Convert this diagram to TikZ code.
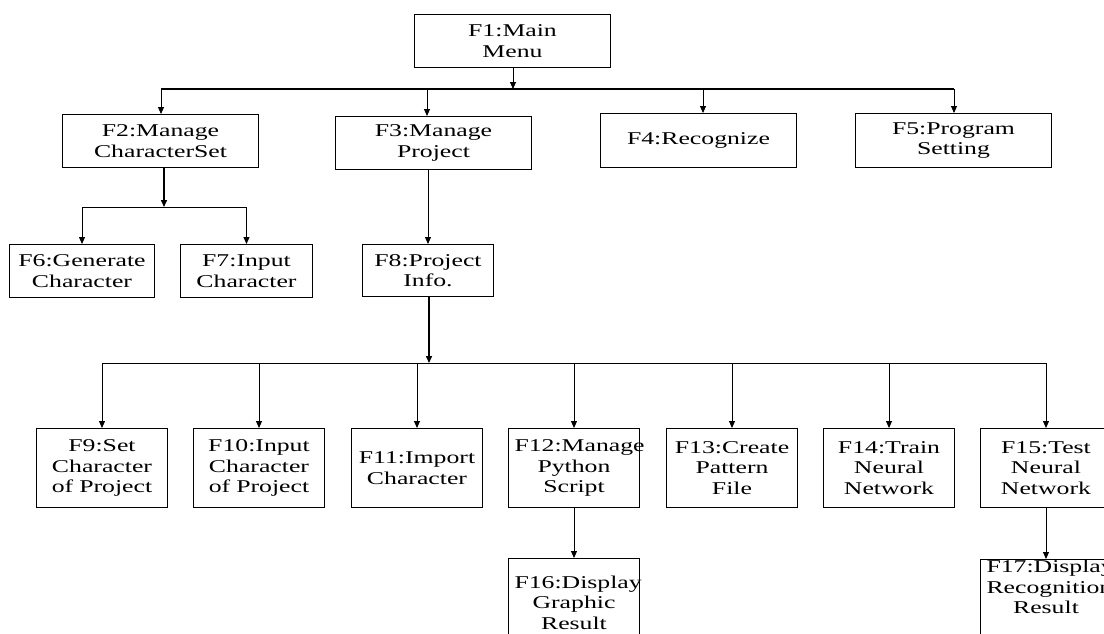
\documentclass[tikz,border=0pt]{standalone}
\usepackage{fontspec}
\setmainfont{Liberation Serif}[FakeStretch=1.43]
\usetikzlibrary{arrows.meta}
\hyphenpenalty=10000
\exhyphenpenalty=10000
\begin{document}
\begin{tikzpicture}[x=1pt,y=-1pt,
  fbox/.style={draw, line width=1pt, anchor=north west, inner xsep=6pt, inner ysep=0pt, align=center, font=\fontsize{18}{20.5}\selectfont},
  wide/.style={fbox, minimum width=196pt, text width=184pt, minimum height=53pt},
  mid/.style={fbox, minimum width=131pt, text width=119pt, minimum height=53pt},
  tall/.style={fbox, minimum width=131pt, text width=119pt, minimum height=79pt},
  ln/.style={line width=0.9pt},
  arr/.style={ln, -{Triangle[length=7pt,width=6pt]}},
  heavy/.style={line width=1.5pt},
]
\fill[white] (0,0) rectangle (1104,633);
\clip (0,0) rectangle (1104,633);

% level 0 and 1
\node[wide] (f1) at (414,14) {F1:Main\\Menu};
\node[wide] (f2) at (62,114) {F2:Manage\\CharacterSet};
\node[wide, minimum width=195pt] (f3) at (335,116) {F3:Manage\\Project};
\node[wide, minimum height=54pt] (f4) at (600,113) {F4:Recognize};
\node[wide, minimum height=54pt] (f5) at (855,113) {F5:Program\\Setting};

% level 2
\node[mid, minimum width=145pt, text width=133pt] (f6) at (9,244) {F6:Generate\\Character};
\node[mid, minimum width=132pt] (f7) at (180,244) {F7:Input\\Character};
\node[mid, minimum height=52pt] (f8) at (362,244) {F8:Project\\Info.};

% level 3
\node[tall] (f9)  at (36,428)  {F9:Set\\Character\\of Project};
\node[tall] (f10) at (193,428) {F10:Input\\Character\\of Project};
\node[tall] (f11) at (351,428) {F11:Import\\Character};
\node[tall] (f12) at (508,428) {F12:Manage\\Python\\Script};
\node[tall] (f13) at (666,428) {F13:Create\\Pattern\\File};
\node[tall] (f14) at (823,428) {F14:Train\\Neural\\Network};
\node[tall] (f15) at (980,428) {F15:Test\\Neural\\Network};

% level 4
\node[tall, minimum height=88pt] (f16) at (508,558) {F16:Display\\Graphic\\Result};
\node[tall, minimum height=100pt] (f17) at (980,559) {};
\node[align=center, text width=119pt, inner sep=0pt, anchor=north, font=\fontsize{18}{20.5}\selectfont] (f17t) at ([yshift=-1pt]f17.north) {F17:Display\\Recognition\\Result};

% main menu bus
\coordinate (j1) at (513,89);
\coordinate (b1l) at (161,89);
\coordinate (b1c) at (427,89);
\coordinate (b1d) at (703,89);
\coordinate (b1r) at (954,89);
\draw[arr] (f1.south -| j1) -- (j1);
\draw[heavy] (b1l) -- (b1r);
\draw[arr] (b1l) -- (b1l |- f2.north);
\draw[arr] (b1c) -- (b1c |- f3.north);
\draw[arr] (b1d) -- (b1d |- f4.north);
\draw[arr] (b1r) -- (b1r |- f5.north);

% character set branch
\coordinate (j2) at (164,207);
\draw[arr, heavy] (j2 |- f2.south) -- (j2);
\draw[ln] (f6.north |- j2) -- (f7.north |- j2);
\draw[arr] (f6.north |- j2) -- (f6.north);
\draw[arr] (f7.north |- j2) -- (f7.north);

% project branch
\draw[arr] (f8.north |- f3.south) -- (f8.north);
\coordinate (j3) at (429,363);
\draw[arr, heavy] (j3 |- f8.south) -- (j3);
\draw[ln] (f9.north |- j3) -- (f15.north |- j3);
\foreach \n in {f9,f10,f11,f12,f13,f14,f15}
  \draw[arr] (\n.north |- j3) -- (\n.north);

\draw[arr] (f12.south) -- (f16.north);
\draw[arr] (f15.south) -- (f17.north);
\end{tikzpicture}
\end{document}
